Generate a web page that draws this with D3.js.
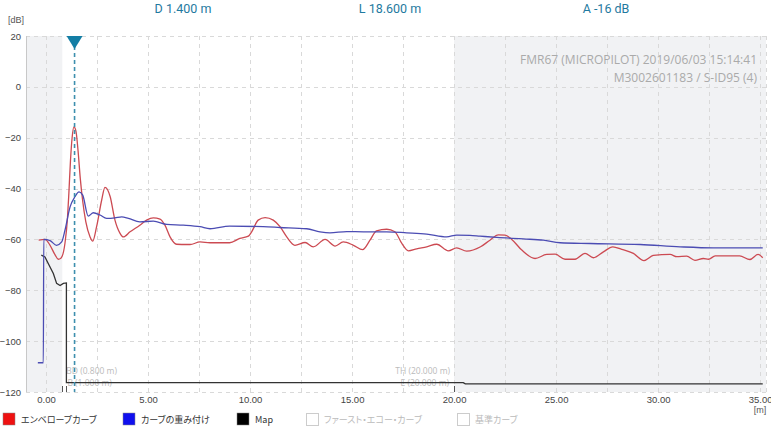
<!DOCTYPE html>
<html><head><meta charset="utf-8">
<script src="https://cdn.jsdelivr.net/npm/d3@7"></script>
<style>
html,body{margin:0;padding:0;background:#fff;}
svg{display:block;}
</style>
</head><body>
<svg id="c" width="771" height="434"></svg>
<script>
// ---- data ----
const envX = [-0.36,-0.05,0.2,0.44,0.6,0.73,0.93,1.05,1.12,1.2,1.28,1.37,1.47,1.57,1.68,1.8,1.95,2.16,2.29,2.48,2.73,2.89,3.14,3.38,3.63,3.79,4.12,4.6,4.93,5.26,5.59,5.83,6.08,6.4,6.9,7.06,7.55,8.04,9.0,9.5,9.92,10.08,10.4,10.74,11.14,11.47,11.8,12.2,12.7,13.1,13.68,14.17,14.57,15.07,15.52,15.88,16.2,16.7,17.1,17.44,17.76,18.17,18.66,19.15,19.72,20.13,20.62,21.3,21.76,22.17,22.5,22.83,23.32,23.97,24.54,24.95,25.44,25.93,26.42,26.83,27.32,27.78,28.22,28.79,29.31,29.77,30.59,30.92,31.4,31.81,32.22,32.47,32.8,34.0,34.5,34.9,35.13];
const envY = [-60.3,-60,-62.3,-66,-67.8,-67.4,-61.5,-52,-42,-29,-20,-15.7,-17.5,-25,-36,-45,-53,-59,-60.7,-55,-44.5,-39.5,-43,-52.4,-57.6,-59,-57,-54.4,-52.4,-51.5,-52,-54.4,-59,-61.9,-62,-62,-61,-61.3,-61.3,-59.6,-58.7,-57,-52.4,-51.4,-52.4,-55,-59,-62.3,-61.2,-62.9,-60,-62.6,-61,-62.3,-64,-60.3,-56.6,-56,-57,-61.6,-64.5,-63.7,-62.9,-61.9,-64.5,-63.3,-64.6,-62.9,-60.3,-58.2,-58.3,-60,-64.2,-67.5,-65.9,-65.8,-67.8,-67.8,-65.5,-67.2,-64.9,-62.9,-63.9,-65.5,-68.3,-66.3,-65.9,-66.8,-66.6,-68.2,-67.5,-67.8,-66.5,-66.5,-67.9,-65.9,-67.2];

const wX = [-0.4,-0.13,-0.11,0.2,0.52,0.77,0.93,1.18,1.42,1.62,1.8,2.07,2.32,2.65,2.97,3.38,3.71,4.04,4.6,5.26,5.92,6.73,7.55,8.04,9.0,10.65,11.47,12.78,13.43,13.92,14.74,15.56,16.7,17.68,18.66,19.64,20.13,20.78,21.27,22.1,23.4,24.38,25.2,26.67,29.12,31.08,32.7,35.13];
const wY = [-108.5,-108.5,-60,-60.5,-62.3,-61,-56.4,-47.2,-43.2,-41.3,-42.6,-50.8,-49.5,-50.4,-51.7,-51.5,-51.1,-51.7,-53.1,-52.8,-54.1,-54.4,-55,-55.8,-54.8,-55,-55.3,-55.8,-57,-57.4,-56.9,-57,-57,-57.4,-57.9,-59,-58.3,-58.4,-58.7,-59.2,-59.8,-60.3,-61.3,-61.6,-62,-62.9,-63.3,-63.3];

const mapX = [-0.23,-0.05,0.11,0.36,0.52,0.69,0.85,1.0,1.0,20.45,20.55,35.13];
const mapY = [-66.2,-66.9,-69.5,-73.4,-77.3,-78.1,-77.3,-77.1,-116.3,-116.3,-116.8,-116.8];

const xTicks = [0,5,10,15,20,25,30,35];
const yTicks = [20,0,-20,-40,-60,-80,-100,-120];
const header = ["D 1.400 m","L 18.600 m","A -16 dB"];
const infoLines = ["FMR67 (MICROPILOT) 2019/06/03 15:14:41","M3002601183 / S-ID95 (4)"];
const legendLabels = ["エンベロープカーブ","カーブの重み付け","Map","ファースト・エコー・カーブ","基準カーブ"];
const markerD = 1.4;
const markers = [{t:"BD (0.800 m)",x:0.8},{t:"B (1.000 m)",x:1.0},{t:"TH (20.000 m)",x:20},{t:"E (20.000 m)",x:20}];

// ---- layout ----
const svg = d3.select("#c");
const L=26, R=766, T=36, B=392;
const x = d3.scaleLinear().domain([-0.98,35.29]).range([L,R]);
const y = d3.scaleLinear().domain([-120,20]).range([B,T]);

// shaded regions
svg.append("rect").attr("x",L).attr("y",T).attr("width",x(0.8)-L).attr("height",B-T).attr("fill","#f1f2f4");
svg.append("rect").attr("x",x(20)).attr("y",T).attr("width",R-x(20)).attr("height",B-T).attr("fill","#f1f2f4");

// grid
const grid = svg.append("g").attr("stroke","#d9d9d9").attr("stroke-dasharray","4,4").attr("stroke-width",1);
d3.range(0,35.01,2.5).forEach(v=>{
  grid.append("line").attr("x1",Math.round(x(v))+0.5).attr("x2",Math.round(x(v))+0.5).attr("y1",T).attr("y2",B);
});
grid.append("line").attr("x1",R+0.5).attr("x2",R+0.5).attr("y1",T).attr("y2",B);
yTicks.forEach(v=>{
  grid.append("line").attr("x1",L).attr("x2",R).attr("y1",Math.round(y(v))+0.5).attr("y2",Math.round(y(v))+0.5);
});
// left axis line
svg.append("line").attr("x1",L+0.5).attr("x2",L+0.5).attr("y1",T).attr("y2",B).attr("stroke","#c8c8c8");

// axes labels
const tickFont = "'Liberation Sans', Arial, sans-serif";
const yAxis = d3.axisLeft(y).tickValues(yTicks).tickSize(0).tickPadding(5);
const gy = svg.append("g").attr("transform",`translate(${L},0)`).call(yAxis);
gy.select(".domain").remove();
gy.selectAll("text").attr("font-family",tickFont).attr("font-size",9.5).attr("fill","#444");
svg.append("text").attr("x",8).attr("y",23).text("[dB]").attr("font-family",tickFont).attr("font-size",9).attr("fill","#555");

const xAxis = d3.axisBottom(x).tickValues(xTicks).tickFormat(d3.format(".2f")).tickSize(0).tickPadding(4);
const gx = svg.append("g").attr("transform",`translate(0,${B})`).call(xAxis);
gx.select(".domain").remove();
gx.selectAll("text").attr("font-family",tickFont).attr("font-size",9.5).attr("fill","#444");
svg.append("text").attr("x",760).attr("y",413).attr("text-anchor","middle").text("[m]").attr("font-family",tickFont).attr("font-size",9).attr("fill","#555");

// info text
infoLines.forEach((t,i)=>{
  svg.append("text").attr("x",757).attr("y",64+i*18).attr("text-anchor","end").text(t)
    .attr("font-family","'Open Sans', 'Noto Sans', sans-serif").attr("font-size",12).attr("fill","#aaaaaa");
});

// header
const hx = [183,390,606];
header.forEach((t,i)=>{
  svg.append("text").attr("x",hx[i]).attr("y",13).attr("text-anchor","middle").text(t)
    .attr("font-family","Roboto, 'Noto Sans', sans-serif").attr("font-size",12.5).attr("fill","#1f7aa0");
});

// clip
svg.append("clipPath").attr("id","clip").append("rect").attr("x",L).attr("y",T-2).attr("width",R-L).attr("height",B-T+4);
const plot = svg.append("g").attr("clip-path","url(#clip)");

// marker labels
const mfont = "'Open Sans', 'Noto Sans', sans-serif";
plot.append("text").attr("x",x(0.8)+4).attr("y",374).text(markers[0].t).attr("font-family",mfont).attr("font-size",8.5).attr("fill","#bbb");
plot.append("text").attr("x",x(1.0)+1).attr("y",386).text(markers[1].t).attr("font-family",mfont).attr("font-size",8.5).attr("fill","#bbb");
plot.append("text").attr("x",x(20)-4).attr("y",374).attr("text-anchor","end").text(markers[2].t).attr("font-family",mfont).attr("font-size",8.5).attr("fill","#bbb");
plot.append("text").attr("x",x(20)-5).attr("y",386).attr("text-anchor","end").text(markers[3].t).attr("font-family",mfont).attr("font-size",8.5).attr("fill","#bbb");
// marker ticks
[0.8,1.0,20].forEach(v=>{
  svg.append("line").attr("x1",Math.round(x(v))+0.5).attr("x2",Math.round(x(v))+0.5).attr("y1",B-6).attr("y2",B).attr("stroke","#555").attr("stroke-width",1);
});

// lines
const envData = envX.map((v,i)=>[v,envY[i]]);
const wData = wX.map((v,i)=>[v,wY[i]]);
const mapData = mapX.map((v,i)=>[v,mapY[i]]);
const lineM = d3.line().x(d=>x(d[0])).y(d=>y(d[1])).curve(d3.curveMonotoneX);
const lineL = d3.line().x(d=>x(d[0])).y(d=>y(d[1]));
plot.append("path").attr("d",lineL(mapData)).attr("fill","none").attr("stroke","#333").attr("stroke-width",1.3);
plot.append("path").attr("d",lineM(envData)).attr("fill","none").attr("stroke","#cc4a52").attr("stroke-width",1.3);
plot.append("path").attr("d",lineM(wData)).attr("fill","none").attr("stroke","#4b4cb3").attr("stroke-width",1.3);

// distance marker
plot.append("line").attr("x1",x(markerD)).attr("x2",x(markerD)).attr("y1",T+10).attr("y2",B)
  .attr("stroke","#3d8fae").attr("stroke-width",1.6).attr("stroke-dasharray","4,3");
const mx = x(markerD);
svg.append("path").attr("d",`M${mx-8},${T}L${mx+8},${T}L${mx},${T+13}Z`).attr("fill","#137ea5");

// legend
const legColors = ["#ee1111","#1010ee","#000000",null,null];
const legX = [3,123,237,306,457];
legendLabels.forEach((t,i)=>{
  const g = svg.append("g");
  if(legColors[i]) {
    g.append("rect").attr("x",legX[i]).attr("y",413).attr("width",12).attr("height",12).attr("fill",legColors[i]).attr("stroke","#888").attr("stroke-width",0.5);
  } else {
    g.append("rect").attr("x",legX[i]+0.5).attr("y",413.5).attr("width",12).attr("height",12).attr("fill","#fff").attr("stroke","#ccc").attr("stroke-width",1);
  }
  g.append("text").attr("x",legX[i]+18).attr("y",423).text(t)
    .attr("font-family","'Noto Sans CJK JP', 'Noto Sans', sans-serif").attr("font-size",9)
    .style("font-feature-settings","'palt' 1")
    .attr("fill",legColors[i]?"#333":"#bbb");
});
</script>
</body></html>
